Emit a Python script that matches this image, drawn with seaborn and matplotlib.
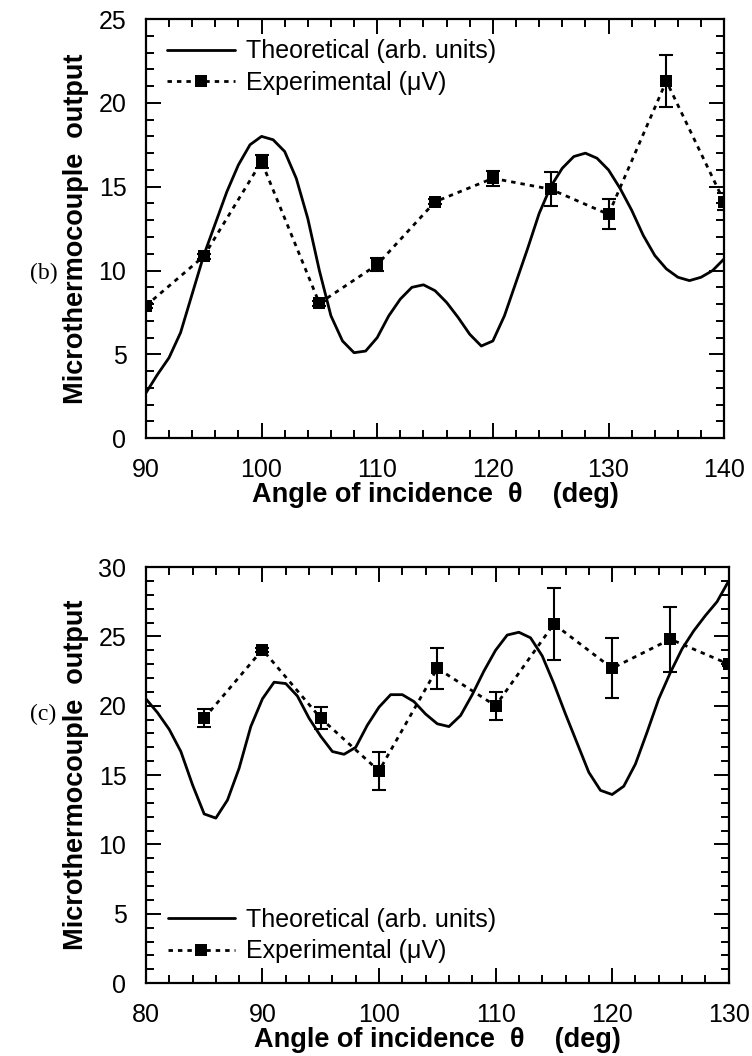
import numpy as np
import pandas as pd
import matplotlib
matplotlib.use("Agg")
import matplotlib.pyplot as plt
import seaborn as sns
from matplotlib.ticker import MultipleLocator

# panel (b)
b_theo_angle = list(range(90, 141))
b_theo_val = [2.7, 3.8, 4.8, 6.3, 8.6, 10.9, 12.8, 14.7, 16.3, 17.5,
              18.0, 17.8, 17.1, 15.5, 13.1, 10.0, 7.3, 5.8, 5.1, 5.2,
              6.0, 7.3, 8.3, 9.0, 9.15, 8.8, 8.1, 7.2, 6.2, 5.5,
              5.8, 7.3, 9.3, 11.3, 13.4, 15.0, 16.1, 16.8, 17.0, 16.7,
              16.0, 14.9, 13.6, 12.1, 10.9, 10.1, 9.6, 9.4, 9.6, 10.0,
              10.7]
b_exp_angle = [90, 95, 100, 105, 110, 115, 120, 125, 130, 135, 140]
b_exp_val = [7.9, 10.85, 16.5, 8.05, 10.35, 14.1, 15.5, 14.85, 13.35, 21.3, 14.1]
b_exp_err = [0.15, 0.15, 0.4, 0.15, 0.4, 0.15, 0.45, 1.0, 0.9, 1.55, 0.5]

# panel (c)
c_theo_angle = list(range(80, 131))
c_theo_val = [20.5, 19.5, 18.3, 16.7, 14.3, 12.2, 11.9, 13.2, 15.5, 18.5,
              20.5, 21.7, 21.6, 20.7, 19.1, 17.8, 16.7, 16.5, 17.0, 18.6,
              19.9, 20.8, 20.8, 20.3, 19.4, 18.7, 18.5, 19.3, 20.8, 22.5,
              24.0, 25.1, 25.3, 24.9, 23.6, 21.6, 19.4, 17.3, 15.2, 13.9,
              13.6, 14.2, 15.8, 18.1, 20.5, 22.4, 24.1, 25.4, 26.5, 27.5,
              29.0]
c_exp_angle = [85, 90, 95, 100, 105, 110, 115, 120, 125, 130]
c_exp_val = [19.1, 24.05, 19.1, 15.3, 22.7, 20.0, 25.9, 22.7, 24.8, 23.0]
c_exp_err = [0.65, 0.15, 0.8, 1.4, 1.5, 1.0, 2.6, 2.15, 2.35, 0.15]

sns.set_style("ticks")
plt.rcParams['font.family'] = ['Liberation Sans', 'DejaVu Sans']
plt.rcParams['axes.linewidth'] = 1.6
plt.rcParams['text.color'] = 'black'
plt.rcParams['axes.labelcolor'] = 'black'
plt.rcParams['xtick.color'] = 'black'
plt.rcParams['ytick.color'] = 'black'
plt.rcParams['axes.edgecolor'] = 'black'

fig = plt.figure(figsize=(7.52, 10.56), dpi=100)
ax_b = fig.add_axes([0.194, 0.585, 0.769, 0.397])
ax_c = fig.add_axes([0.194, 0.069, 0.775, 0.394])


def draw_panel(ax, t_x, t_y, e_x, e_y, e_err, xlim, ylim, legend_anchor):
    theo = pd.DataFrame({'angle': t_x, 'value': t_y})
    exp = pd.DataFrame({'angle': e_x, 'value': e_y})
    sns.lineplot(data=theo, x='angle', y='value', ax=ax, color='black',
                 linewidth=2.0, label='Theoretical (arb. units)')
    sns.lineplot(data=exp, x='angle', y='value', ax=ax, color='black',
                 linewidth=2.0, dashes=False, marker='s', markersize=8,
                 markeredgewidth=0, label='Experimental (\u03bcV)')
    ax.lines[-1].set_dashes((1.6, 1.8))
    ax.errorbar(e_x, e_y, yerr=e_err, fmt='none', ecolor='black',
                elinewidth=1.5, capsize=5, capthick=1.5)
    ax.set_xlim(*xlim)
    ax.set_ylim(*ylim)
    ax.xaxis.set_major_locator(MultipleLocator(10))
    ax.xaxis.set_minor_locator(MultipleLocator(2))
    ax.yaxis.set_major_locator(MultipleLocator(5))
    ax.yaxis.set_minor_locator(MultipleLocator(1))
    ax.tick_params(which='both', direction='in', top=True, right=True,
                   width=1.4, labelsize=18)
    ax.tick_params(axis='x', which='major', pad=14)
    ax.tick_params(axis='y', which='major', pad=14)
    ax.tick_params(which='major', length=11)
    ax.tick_params(which='minor', length=6)
    ax.set_xlabel('Angle of incidence  \u03b8    (deg)', fontsize=19.5,
                  fontweight='bold', labelpad=0)
    ax.set_ylabel('Microthermocouple  output', fontsize=19.5,
                  fontweight='bold', labelpad=7)
    leg = ax.legend(loc='upper left', bbox_to_anchor=legend_anchor,
                    frameon=False, fontsize=18, handlelength=2.7,
                    handletextpad=0.45, labelspacing=0.3, borderaxespad=0)
    leg.get_lines()[1].set_dashes((1.6, 1.8))


draw_panel(ax_b, b_theo_angle, b_theo_val, b_exp_angle, b_exp_val, b_exp_err,
           (90, 140), (0, 25), (0.02, 0.975))
draw_panel(ax_c, c_theo_angle, c_theo_val, c_exp_angle, c_exp_val, c_exp_err,
           (80, 130), (0, 30), (0.02, 0.205))

fig.text(0.058, 0.741, '(b)', fontsize=17, family='Liberation Serif',
         ha='center', va='center')
fig.text(0.058, 0.323, '(c)', fontsize=17, family='Liberation Serif',
         ha='center', va='center')

fig.savefig('out.png', dpi=100, facecolor='white')
